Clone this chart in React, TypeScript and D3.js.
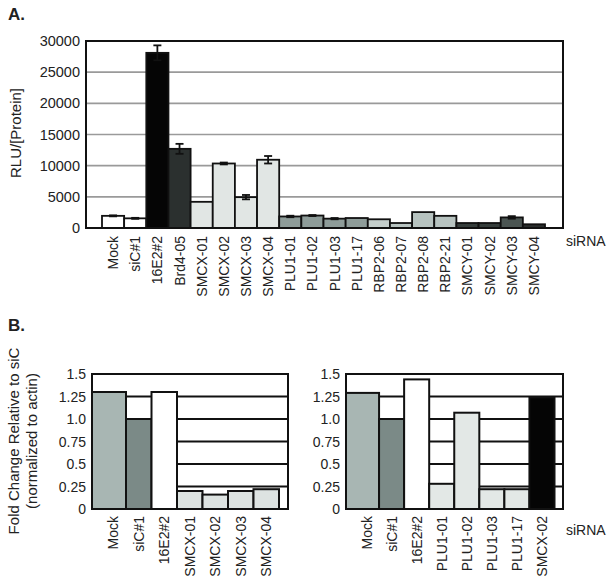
import React from "react";
import * as d3 from "d3";

const catsA = ["Mock","siC#1","16E2#2","Brd4-05","SMCX-01","SMCX-02","SMCX-03","SMCX-04","PLU1-01","PLU1-02","PLU1-03","PLU1-17","RBP2-06","RBP2-07","RBP2-08","RBP2-21","SMCY-01","SMCY-02","SMCY-03","SMCY-04"];
const valsA = [1950,1550,28100,12700,4200,10350,4950,10950,1850,2000,1500,1600,1400,800,2550,1950,800,800,1700,600];
const errA = [80,80,1200,800,0,150,350,600,120,80,100,0,0,0,0,0,0,0,200,0];
const colorsA = ["#ffffff","#ffffff","#050505","#2b302f","#e1e6e4","#e1e6e4","#e1e6e4","#e1e6e4","#8e9c99","#8e9c99","#8e9c99","#8e9c99","#c4cecb","#b7c3c0","#b7c3c0","#b7c3c0","#353d3b","#353d3b","#4b5552","#2a2e2d"];
const ticksA = [0,5000,10000,15000,20000,25000,30000];

const catsB1 = ["Mock","siC#1","16E2#2","SMCX-01","SMCX-02","SMCX-03","SMCX-04"];
const valsB1 = [1.3,1.0,1.3,0.2,0.16,0.2,0.22];
const colorsB1 = ["#a8b6b3","#7b8a87","#ffffff","#dde3e1","#dde3e1","#dde3e1","#dde3e1"];

const catsB2 = ["Mock","siC#1","16E2#2","PLU1-01","PLU1-02","PLU1-03","PLU1-17","SMCX-02"];
const valsB2 = [1.29,1.0,1.44,0.28,1.07,0.22,0.22,1.24];
const colorsB2 = ["#a8b6b3","#7b8a87","#ffffff","#e3e8e6","#e3e8e6","#e3e8e6","#e3e8e6","#050505"];
const ticksB = [0,0.25,0.5,0.75,1.0,1.25,1.5];
const tickLabelsB = ["0","0.25","0.5","0.75","1.0","1.25","1.5"];

const FONT = "'Liberation Sans', Arial, sans-serif";
const TXT = "#222";

function PanelA() {
  const L = 86, R = 563, T = 41, B = 228;
  const y = d3.scaleLinear().domain([0, 30000]).range([B, T]);
  const x = d3.scaleBand().domain(catsA).range([102, 545]).padding(0);
  return (
    <g>
      {ticksA.slice(1, -1).map((t) => (
        <line key={t} x1={L} x2={R} y1={y(t)} y2={y(t)} stroke="#9a9a9a" strokeWidth={1.6} />
      ))}
      {catsA.map((c, i) => (
        <rect key={c} x={x(c)} y={y(valsA[i])} width={x.bandwidth()} height={B - y(valsA[i])}
          fill={colorsA[i]} stroke="#111" strokeWidth={1.8} />
      ))}
      {catsA.map((c, i) => errA[i] > 0 ? (
        <g key={"e" + c} stroke="#111" strokeWidth={1.8}>
          <line x1={x(c)! + x.bandwidth() / 2} x2={x(c)! + x.bandwidth() / 2} y1={y(valsA[i] - errA[i])} y2={y(valsA[i] + errA[i])} />
          <line x1={x(c)! + x.bandwidth() / 2 - 4} x2={x(c)! + x.bandwidth() / 2 + 4} y1={y(valsA[i] + errA[i])} y2={y(valsA[i] + errA[i])} />
          <line x1={x(c)! + x.bandwidth() / 2 - 4} x2={x(c)! + x.bandwidth() / 2 + 4} y1={y(valsA[i] - errA[i])} y2={y(valsA[i] - errA[i])} />
        </g>
      ) : null)}
      <rect x={L} y={T} width={R - L} height={B - T} fill="none" stroke="#111" strokeWidth={2} />
      {ticksA.map((t) => (
        <text key={"t" + t} x={80} y={y(t) + 5} textAnchor="end" fontSize={14.5} fill={TXT}>{t}</text>
      ))}
      {catsA.map((c) => (
        <text key={"l" + c} transform={`translate(${x(c)! + x.bandwidth() / 2 + 5},236) rotate(-90)`} textAnchor="end" fontSize={14} fill={TXT}>{c}</text>
      ))}
      <text transform="translate(21,133) rotate(-90)" textAnchor="middle" fontSize={15} fill={TXT}>RLU/[Protein]</text>
      <text x={566} y={246} fontSize={14} fill={TXT}>siRNA</text>
    </g>
  );
}

function PanelB({ cats, vals, colors, L, R, bandStart, bandEnd }: any) {
  const T = 374, B = 509;
  const y = d3.scaleLinear().domain([0, 1.5]).range([B, T]);
  const x = d3.scaleBand().domain(cats).range([bandStart, bandEnd]).padding(0);
  return (
    <g>
      {ticksB.slice(1, -1).map((t) => (
        <line key={t} x1={L} x2={R} y1={y(t)} y2={y(t)} stroke="#111" strokeWidth={2} />
      ))}
      {cats.map((c: string, i: number) => {
        const x0 = i === 0 ? L : x(c)!;
        const x1 = x(c)! + x.bandwidth();
        return (
          <rect key={c} x={x0} y={y(vals[i])} width={x1 - x0} height={B - y(vals[i])}
            fill={colors[i]} stroke="#111" strokeWidth={2} />
        );
      })}
      <rect x={L} y={T} width={R - L} height={B - T} fill="none" stroke="#111" strokeWidth={2} />
      {ticksB.map((t, i) => (
        <text key={"t" + t} x={L - 6} y={y(t) + 5} textAnchor="end" fontSize={14} fill={TXT}>{tickLabelsB[i]}</text>
      ))}
      {cats.map((c: string) => (
        <text key={"l" + c} transform={`translate(${x(c)! + x.bandwidth() / 2 + 5},516) rotate(-90)`} textAnchor="end" fontSize={14} fill={TXT}>{c}</text>
      ))}
    </g>
  );
}

export default function App() {
  return (
    <svg width={614} height={584} style={{ position: "absolute", left: 0, top: 0, background: "#fff" }} fontFamily={FONT}>
      <rect width={614} height={584} fill="#fff" />
      <text x={8} y={20} fontSize={17} fontWeight="bold" fill={TXT}>A.</text>
      <PanelA />
      <text x={8} y={331} fontSize={17} fontWeight="bold" fill={TXT}>B.</text>
      <PanelB cats={catsB1} vals={valsB1} colors={colorsB1} L={92} R={288} bandStart={100.5} bandEnd={279} />
      <PanelB cats={catsB2} vals={valsB2} colors={colorsB2} L={346} R={563} bandStart={354} bandEnd={554.5} />
      <text transform="translate(19,441) rotate(-90)" textAnchor="middle" fontSize={15} fill={TXT}>Fold Change Relative to siC</text>
      <text transform="translate(37,441) rotate(-90)" textAnchor="middle" fontSize={15} fill={TXT}>(normalized to actin)</text>
      <text x={566} y={535} fontSize={14} fill={TXT}>siRNA</text>
    </svg>
  );
}
